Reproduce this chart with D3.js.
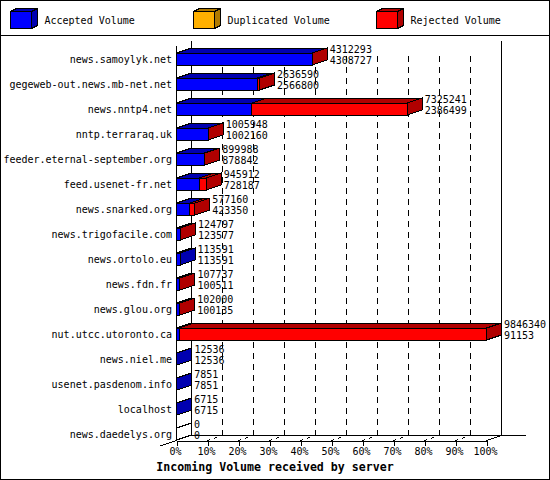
<!DOCTYPE html>
<html>
<head>
<meta charset="utf-8">
<script src="https://cdn.jsdelivr.net/npm/d3@7"></script>
<style>
  html, body { margin: 0; padding: 0; background: #fff; }
  svg { display: block; }
  text { font-family: "DejaVu Sans Mono", monospace; font-size: 10px; fill: #000; }
  .title { font-size: 11.6px; font-weight: bold; }
  .edge { shape-rendering: crispEdges; }
</style>
</head>
<body>
<svg width="550" height="480"></svg>
<script>
const width = 550;
const height = 480;

const hosts = ["news.samoylyk.net", "gegeweb-out.news.mb-net.net", "news.nntp4.net", "nntp.terraraq.uk",
    "feeder.eternal-september.org", "feed.usenet-fr.net", "news.snarked.org", "news.trigofacile.com",
    "news.ortolo.eu", "news.fdn.fr", "news.glou.org", "nut.utcc.utoronto.ca",
    "news.niel.me", "usenet.pasdenom.info", "localhost", "news.daedelys.org"];
const totalVolume = [4312293, 2636590, 7325241, 1005948, 899988, 945912, 577160, 124797,
    113591, 107737, 102000, 9846340, 12536, 7851, 6715, 0];
const acceptedVolume = [4308727, 2566800, 2386499, 1002160, 878842, 728187, 423350, 123577,
    113591, 100511, 100135, 91153, 12536, 7851, 6715, 0];
const legendLabels = ["Accepted Volume", "Duplicated Volume", "Rejected Volume"];
const percentTicks = [0, 10, 20, 30, 40, 50, 60, 70, 80, 90, 100];

const frontColor = { accepted: "#0000ff", duplicated: "#ffb000", rejected: "#ff0000" };
const shadeColor = { accepted: "#0000b0", duplicated: "#b07a00", rejected: "#b00000" };

// depth of the fake 3D
const dx = 15;
const dy = 5;
const barHeight = 12;

const svg = d3.select("svg");
const maxVolume = d3.max(totalVolume);

const x = d3.scaleLinear().domain([0, 100]).range([176.5, 486.5]);
const y = d3.scaleBand().domain(hosts).range([40.5, 440.5]);
const floorY = y.range()[1];
const topY = y.range()[0];
const pct = v => v / maxVolume * 100;

// Outer frame and legend separator
svg.append("rect").attr("class", "edge")
    .attr("x", 0.5).attr("y", 0.5).attr("width", 549).attr("height", 479)
    .attr("fill", "#fff").attr("stroke", "#000");
line(0, 35.5, 550, 35.5);

function line(x1, y1, x2, y2, dash) {
    return svg.append("line").attr("class", "edge")
        .attr("x1", x1).attr("y1", y1).attr("x2", x2).attr("y2", y2)
        .attr("stroke", "#000").attr("stroke-dasharray", dash || null);
}

function poly(points, fill) {
    svg.append("polygon").attr("class", "edge")
        .attr("points", points.map(p => p.join(",")).join(" "))
        .attr("fill", fill).attr("stroke", "#000");
}

// Draws one box: front, top and optional side
function box(x0, x1, top, h, ddx, ddy, front, shade, withSide, sideColor) {
    poly([[x0, top], [x0 + ddx, top - ddy], [x1 + ddx, top - ddy], [x1, top]], shade);
    if (withSide) {
        poly([[x1, top], [x1 + ddx, top - ddy], [x1 + ddx, top + h - ddy], [x1, top + h]], sideColor || shade);
    }
    svg.append("rect").attr("class", "edge")
        .attr("x", x0).attr("y", top).attr("width", x1 - x0).attr("height", h)
        .attr("fill", front).attr("stroke", "#000");
}

// Legend
const legendX = d3.scalePoint().domain(legendLabels).range([10.5, 376.5]);
const legendKeys = ["accepted", "duplicated", "rejected"];
legendLabels.forEach(function(label, i) {
    const k = legendKeys[i];
    box(legendX(label), legendX(label) + 21, 11.5, 17, 6, 3, frontColor[k], shadeColor[k], true);
    svg.append("text").attr("x", legendX(label) + 34).attr("y", 23.5).text(label);
});

// Walls and floor
line(x(0), topY + dy, x(0), floorY);
line(x(0) + dx, topY, x(0) + dx, floorY - dy);
line(x(100) + dx, topY, x(100) + dx, floorY - dy);
line(x(0) + dx, floorY - dy, 525.5, floorY - dy);
line(x(0) - 16, floorY + 5.5, x(0), floorY);
line(x(100), floorY, x(100) + dx, floorY - dy);

// Grid lines on the back wall and on the floor
percentTicks.slice(1, -1).forEach(function(p) {
    line(x(p) + dx, floorY - dy, x(p) + dx, topY + 10, "6,5");
    line(x(p), floorY, x(p) + dx, floorY - dy, "3,4");
});

// X axis
const xAxis = svg.append("g")
    .attr("transform", `translate(0,${floorY})`)
    .call(d3.axisBottom(x).tickValues(percentTicks).tickFormat(d => d + "%").tickSize(5).tickPadding(2));
xAxis.select(".domain").attr("stroke", "#000").attr("shape-rendering", "crispEdges");
xAxis.selectAll("line").attr("shape-rendering", "crispEdges");
xAxis.selectAll("text")
    .attr("dx", -1.5)
    .style("font-family", '"DejaVu Sans Mono", monospace')
    .style("font-size", "10px");

// Bars, top to bottom
hosts.forEach(function(host, i) {
    const top = y(host) + y.bandwidth() - barHeight - 0.5;
    const xAcc = x(pct(acceptedVolume[i]));
    const xTot = x(pct(totalVolume[i]));
    const hasRejected = totalVolume[i] > acceptedVolume[i];

    if (totalVolume[i] === 0) {
        line(x(0), top, x(0) + dx, top - dy);
        line(x(0), top + barHeight, x(0) + dx, top + barHeight - dy);
    } else {
        box(x(0), xAcc, top, barHeight, dx, dy, frontColor.accepted, shadeColor.accepted,
            !hasRejected);
        if (hasRejected) {
            box(xAcc, xTot, top, barHeight, dx, dy, frontColor.rejected, shadeColor.rejected, true);
        }
    }

    // Host name
    svg.append("text").attr("x", 172).attr("y", top + 9.5)
        .attr("text-anchor", "end").text(host);

    // Volume values
    svg.append("text").attr("x", xTot + dx + 2.5).attr("y", top - 0.5).text(totalVolume[i]);
    svg.append("text").attr("x", xTot + dx + 2.5).attr("y", top + 11).text(acceptedVolume[i]);
});

// Axis title
svg.append("text").attr("class", "title")
    .attr("x", 275).attr("y", 471)
    .attr("text-anchor", "middle")
    .text("Incoming Volume received by server");
</script>
</body>
</html>
